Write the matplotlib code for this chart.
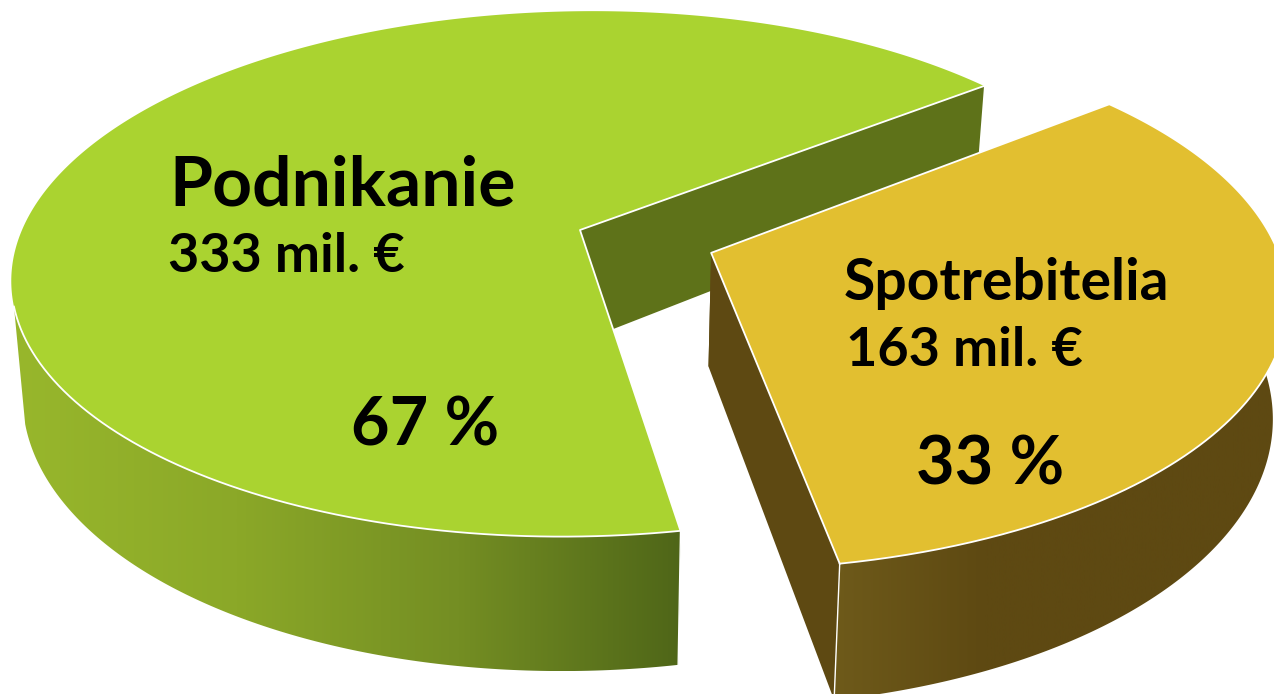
"""3D exploded pie: financing split between business and consumers"""

import numpy as np
import matplotlib
matplotlib.use("Agg")
import matplotlib.pyplot as plt
from matplotlib.colors import LinearSegmentedColormap
from matplotlib.patches import Polygon

labels = ["Podnikanie", "Spotrebitelia"]
amounts = [333, 163]
amount_labels = ["333 mil. €", "163 mil. €"]
percent_labels = ["67 %", "33 %"]

top_colors = ["#aad330", "#e2bf30"]
side_colors = ["#5e7219", "#5e4912"]
wall_stops = [["#98b72c", "#8ba828", "#748e23", "#4f6618"],
              ["#6e5a1a", "#5e4912", "#5e4912", "#5e4912"]]
explode = [0.0, 0.25]
wall_from = [0.28, 0.0]  # the outer wall shows only nearer than this

# camera, in pixels of the output image
CX, CY = 580, 230
RX, RY = 558, 217
SHEAR = -15
PERSP = 0.167
DEPTH = 112
SHRINK = 0.98
START_ANGLE = 38.5

plt.rcParams["font.family"] = ["Lato", "DejaVu Sans"]

fig = plt.figure(figsize=(12.74, 6.94), dpi=100)
ax = fig.add_axes([0, 0, 1, 1])


def project(u, v, z=0.0):
    """Disc coordinates (v towards the viewer) and depth 0..1 to pixels"""
    w = 1 - PERSP * v
    x = CX + (RX * (1 - (1 - SHRINK) * z) * u + SHEAR * v) / w
    y = (CY + RY * v + DEPTH * z) / w
    return x, y


def slice_outline(angles, offset, z=0.0):
    """Arc of a slice plus its apex"""
    u = np.cos(angles) + offset[0]
    v = -np.sin(angles) + offset[1]
    arc = np.column_stack(project(u, v, z))
    apex = np.array(project(offset[0], offset[1], z))
    return arc, apex


def gradient_wall(points, stops, zorder):
    """Fill a polygon with a horizontal colour gradient"""
    cmap = LinearSegmentedColormap.from_list("wall", stops)
    patch = Polygon(points, closed=True, transform=ax.transData, facecolor="none", edgecolor="none")
    ax.add_patch(patch)
    xmin, xmax = points[:, 0].min(), points[:, 0].max()
    ymin, ymax = points[:, 1].min(), points[:, 1].max()
    image = ax.imshow(np.linspace(0, 1, 512)[None, :], cmap=cmap, aspect="auto",
                      extent=(xmin, xmax, ymax, ymin), zorder=zorder)
    image.set_clip_path(patch)


shares = np.array(amounts) / sum(amounts)
theta = START_ANGLE
zorder = 2
for i in range(len(amounts)):
    theta1, theta2 = theta, theta + shares[i] * 360
    theta = theta2
    mid = np.radians((theta1 + theta2) / 2)
    offset = (explode[i] * np.cos(mid), -explode[i] * np.sin(mid))
    angles = np.radians(np.linspace(theta1, theta2, 400))

    top_arc, top_apex = slice_outline(angles, offset)
    low_arc, low_apex = slice_outline(angles, offset, z=1.0)

    # flat cut sides
    for edge_top, edge_low in ((top_arc[0], low_arc[0]), (top_arc[-1], low_arc[-1])):
        ax.add_patch(Polygon([top_apex, edge_top, edge_low, low_apex], closed=True,
                             facecolor=side_colors[i], edgecolor="none", zorder=zorder))

    # round outer wall, front part only
    front = -np.sin(angles) > wall_from[i]
    wall = np.vstack([top_arc[front], low_arc[front][::-1]])
    gradient_wall(wall, wall_stops[i], zorder + 1)

    ax.add_patch(Polygon(np.vstack([top_apex, top_arc]), closed=True,
                         facecolor=top_colors[i], edgecolor="none", zorder=zorder + 2))

    # white edges
    ax.plot(top_arc[front, 0], top_arc[front, 1], color="white", lw=1.3, zorder=zorder + 3)
    ax.plot([top_arc[0, 0], top_apex[0], top_arc[-1, 0]], [top_arc[0, 1], top_apex[1], top_arc[-1, 1]],
            color="white", lw=1.3, zorder=zorder + 3)
    front_end = top_arc[-1] if i == 0 else top_arc[0]
    front_low = low_arc[-1] if i == 0 else low_arc[0]
    ax.plot([front_end[0], front_low[0]], [front_end[1], front_low[1]],
            color="white", lw=1.0, zorder=zorder + 3)
    zorder += 5

ax.text(169, 205, labels[0], fontsize=50, fontweight="bold", color="black", zorder=50)
ax.text(168, 272, amount_labels[0], fontsize=39, fontweight="bold", color="black", zorder=50)
ax.text(351, 445, percent_labels[0], fontsize=48, fontweight="bold", color="black", zorder=50)
ax.text(844, 300, labels[1], fontsize=41, fontweight="bold", color="black", zorder=50)
ax.text(846, 366, amount_labels[1], fontsize=39, fontweight="bold", color="black", zorder=50)
ax.text(916, 484, percent_labels[1], fontsize=48, fontweight="bold", color="black", zorder=50)

ax.set_xlim(0, 1274)
ax.set_ylim(694, 0)
ax.axis("off")

fig.savefig("out.png", dpi=100, facecolor="white")
